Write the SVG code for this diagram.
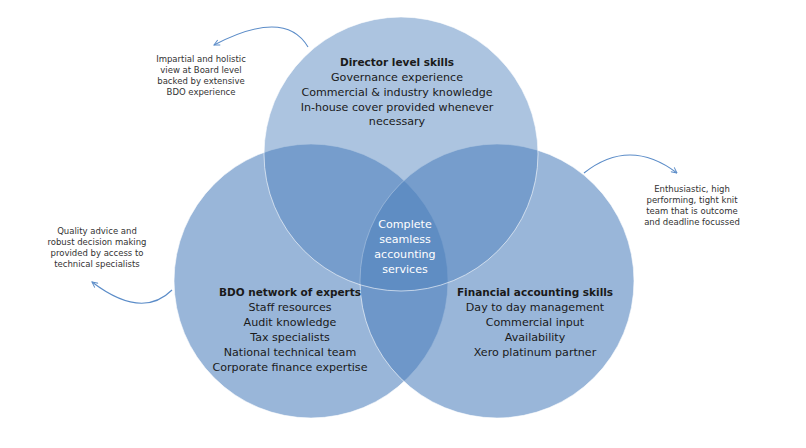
<svg xmlns="http://www.w3.org/2000/svg" width="806" height="448" viewBox="0 0 806 448">
<defs>
<style>
.c{fill:#4f81bd;stroke:#ffffff;stroke-width:1;stroke-opacity:0.6}
.t{font-family:"DejaVu Sans",Verdana,sans-serif;font-size:11.1px;fill:#1a1a1a;text-anchor:middle}
.b{font-weight:bold;font-size:10.5px}
.w{fill:#ffffff}
.n{font-family:"DejaVu Sans",Verdana,sans-serif;font-size:8.5px;fill:#333333;text-anchor:middle}
.a{fill:none;stroke:#5b8cc8;stroke-width:1.1;marker-end:url(#ah)}
</style>
<marker id="ah" viewBox="0 0 10 10" refX="9" refY="5" markerWidth="7" markerHeight="7" markerUnits="userSpaceOnUse" orient="auto">
<path d="M1,1 L9,5 L1,9" fill="none" stroke="#5b8cc8" stroke-width="1.4"/>
</marker>
</defs>
<g id="circle-left"><circle class="c" cx="311" cy="281" r="137" fill-opacity="0.58"/></g>
<g id="circle-right"><circle class="c" cx="497" cy="281" r="137" fill-opacity="0.58"/></g>
<g id="circle-top"><circle class="c" cx="401" cy="154" r="137" fill-opacity="0.47"/></g>
<g id="connectors">
<path class="a" d="M308,47 Q285,8 214,45"/>
<path class="a" d="M584,173 Q629.5,137 677,173"/>
<path class="a" d="M172,290 Q142,320 92,282"/>
</g>
<g id="director-text">
<text class="t b" x="397" y="66">Director level skills</text>
<text class="t" x="397" y="81">Governance experience</text>
<text class="t" x="397" y="96">Commercial &amp; industry knowledge</text>
<text class="t" x="397" y="111">In-house cover provided whenever</text>
<text class="t" x="397" y="125">necessary</text>
</g>
<g id="bdo-text">
<text class="t b" x="290" y="296">BDO network of experts</text>
<text class="t" x="290" y="311">Staff resources</text>
<text class="t" x="290" y="326">Audit knowledge</text>
<text class="t" x="290" y="341">Tax specialists</text>
<text class="t" x="290" y="356">National technical team</text>
<text class="t" x="290" y="371">Corporate finance expertise</text>
</g>
<g id="financial-text">
<text class="t b" x="535" y="296">Financial accounting skills</text>
<text class="t" x="535" y="311">Day to day management</text>
<text class="t" x="535" y="326">Commercial input</text>
<text class="t" x="535" y="341">Availability</text>
<text class="t" x="535" y="356">Xero platinum partner</text>
</g>
<g id="center-text">
<text class="t w" x="405" y="228">Complete</text>
<text class="t w" x="405" y="243">seamless</text>
<text class="t w" x="405" y="258">accounting</text>
<text class="t w" x="405" y="273">services</text>
</g>
<g id="note-board">
<text class="n" x="201" y="62">Impartial and holistic</text>
<text class="n" x="201" y="73">view at Board level</text>
<text class="n" x="201" y="84">backed by extensive</text>
<text class="n" x="201" y="95">BDO experience</text>
</g>
<g id="note-team">
<text class="n" x="692" y="192">Enthusiastic, high</text>
<text class="n" x="692" y="203">performing, tight knit</text>
<text class="n" x="692" y="214">team that is outcome</text>
<text class="n" x="692" y="225">and deadline focussed</text>
</g>
<g id="note-quality">
<text class="n" x="97" y="234">Quality advice and</text>
<text class="n" x="97" y="245">robust decision making</text>
<text class="n" x="97" y="256">provided by access to</text>
<text class="n" x="97" y="267">technical specialists</text>
</g>
</svg>
